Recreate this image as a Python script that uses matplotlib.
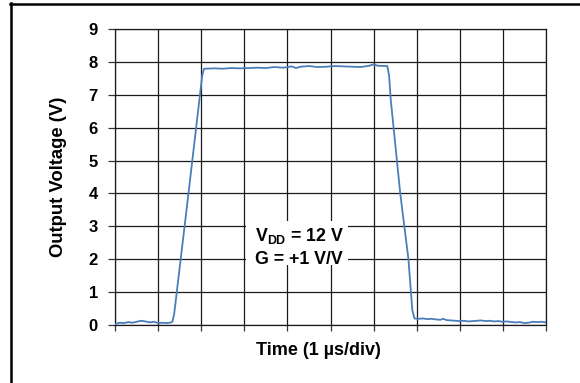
import matplotlib
matplotlib.use("Agg")
import matplotlib.pyplot as plt
from matplotlib.lines import Line2D
from matplotlib.patches import Rectangle

plt.rcParams['font.family'] = ['Liberation Sans', 'DejaVu Sans']
plt.rcParams['mathtext.fontset'] = 'custom'
plt.rcParams['mathtext.rm'] = 'Liberation Sans:bold'
plt.rcParams['mathtext.bf'] = 'Liberation Sans:bold'

# Time in divisions (1 µs/div), output voltage in V
time_div = [0.0, 0.1, 0.2, 0.3, 0.4, 0.5, 0.6, 0.7, 0.8, 0.9, 1.0, 1.1, 1.2, 1.3,
            1.33, 1.37, 1.70, 2.02, 2.06,
            2.1, 2.3, 2.5, 2.7, 2.9, 3.1, 3.3, 3.5, 3.7, 3.9, 4.1, 4.2, 4.3, 4.5,
            4.7, 4.9, 5.1, 5.3, 5.5, 5.7, 5.9, 6.0, 6.1, 6.3,
            6.32, 6.36, 6.40, 6.62, 6.81, 6.90, 6.95,
            7.05, 7.15, 7.25, 7.35, 7.45, 7.55, 7.62, 7.7, 7.8, 7.9, 8.0, 8.1,
            8.2, 8.3, 8.4, 8.5, 8.6, 8.7, 8.8, 8.9, 9.0, 9.1, 9.2, 9.3, 9.4,
            9.5, 9.6, 9.7, 9.8, 9.9, 10.0]
voltage = [0.02, 0.06, 0.05, 0.08, 0.06, 0.09, 0.12, 0.10, 0.07, 0.09, 0.05, 0.06, 0.05, 0.07,
           0.10, 0.35, 4.0, 7.6, 7.80,
           7.80, 7.81, 7.80, 7.82, 7.81, 7.82, 7.83, 7.82, 7.85, 7.83, 7.87, 7.82, 7.86, 7.88,
           7.85, 7.86, 7.88, 7.87, 7.86, 7.85, 7.89, 7.93, 7.89, 7.88,
           7.88, 7.6, 6.85, 4.0, 2.0, 0.45, 0.19,
           0.18, 0.19, 0.17, 0.18, 0.16, 0.15, 0.18, 0.14, 0.13, 0.12, 0.11, 0.12,
           0.10, 0.11, 0.12, 0.13, 0.11, 0.12, 0.10, 0.11, 0.09, 0.10, 0.08, 0.07, 0.08,
           0.05, 0.06, 0.09, 0.08, 0.09, 0.07]

y_ticks = [0, 1, 2, 3, 4, 5, 6, 7, 8, 9]
x_ticks = [0, 1, 2, 3, 4, 5, 6, 7, 8, 9, 10]
annotation_lines = [r"V$_{\mathrm{DD}}$ = 12 V", "G = +1 V/V"]

fig = plt.figure(figsize=(5.8, 3.83), dpi=100)
ax = fig.add_axes([0.1988, 0.1522, 0.9409 - 0.1988, 0.9235 - 0.1522])

ax.plot(time_div, voltage, color='#4a7ebb', lw=1.3, zorder=3)

ax.set_xlim(0, 10)
ax.set_ylim(0, 9)
ax.set_xticks(x_ticks)
ax.set_xticklabels([])
ax.set_yticks(y_ticks)
ax.set_yticklabels([str(v) for v in y_ticks], fontweight='bold', fontsize=12)
ax.tick_params(axis='y', length=5, width=0.9, pad=7.5, color='#333333')
ax.tick_params(axis='x', length=4, width=0.9, color='#333333')
ax.set_axisbelow(True)
ax.grid(True, color='#1a1a1a', lw=0.9)
for s in ax.spines.values():
    s.set_color('#1a1a1a')
    s.set_linewidth(0.9)

ax.set_xlabel('Time (1 µs/div)', fontweight='bold', fontsize=13, va='center', ha='center')
ax.xaxis.set_label_coords(0.472, -0.0857)
ax.set_ylabel('Output Voltage (V)', fontweight='bold', fontsize=13.3, va='center', ha='center')
ax.yaxis.set_label_coords(-0.133, 0.5)

# white box behind annotation
ax.add_patch(Rectangle((3.04, 1.82), 2.37, 1.34, facecolor='white', edgecolor='none', zorder=1.5))
ax.text(3.25, 2.55, annotation_lines[0], fontsize=12.8, fontweight='bold', va='baseline', zorder=4)
ax.text(3.25, 1.85, annotation_lines[1], fontsize=12.8, fontweight='bold', va='baseline', zorder=4)

# outer frame (partially visible)
fig.add_artist(Line2D([10 / 580, 1.0], [1 - 4 / 383, 1 - 4 / 383], color='black', lw=1.8,
                      transform=fig.transFigure))
fig.add_artist(Line2D([11 / 580, 11 / 580], [1 - 3 / 383, 0.0], color='black', lw=1.8,
                      transform=fig.transFigure))

fig.savefig('out.png', dpi=100)
